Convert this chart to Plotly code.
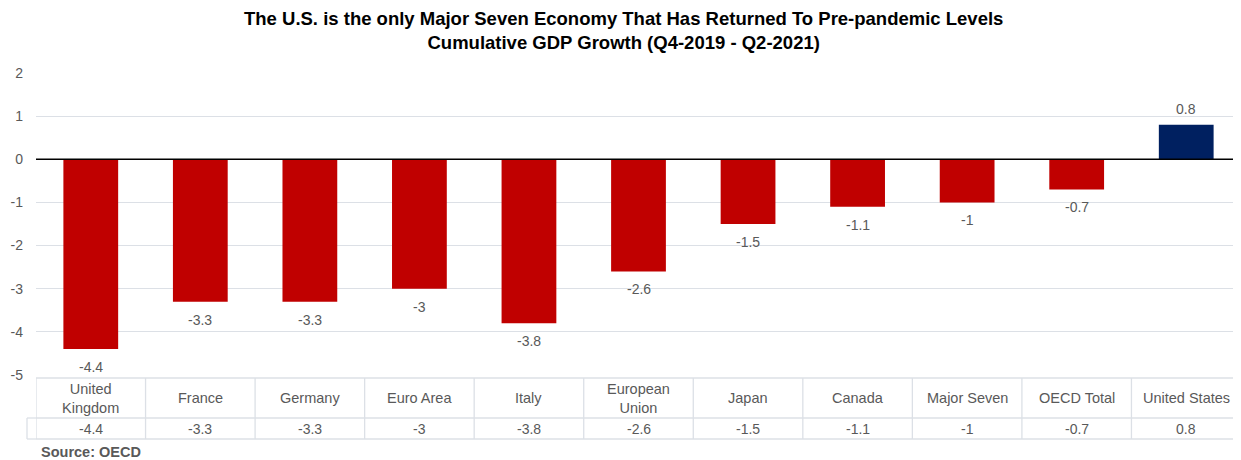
import plotly.graph_objects as go

categories = ["United<br>Kingdom", "France", "Germany", "Euro Area", "Italy",
              "European<br>Union", "Japan", "Canada", "Major Seven", "OECD Total",
              "United States"]
values = [-4.4, -3.3, -3.3, -3.0, -3.8, -2.6, -1.5, -1.1, -1.0, -0.7, 0.8]
value_labels = ["-4.4", "-3.3", "-3.3", "-3", "-3.8", "-2.6", "-1.5", "-1.1", "-1", "-0.7", "0.8"]
y_ticks = [2, 1, 0, -1, -2, -3, -4, -5]
y_tick_text = ["2", "1", "0", "-1", "-2", "-3", "-4", "-5"]

RED = "#C00000"
NAVY = "#002060"
colors = [NAVY if v > 0 else RED for v in values]
x = list(range(len(categories)))

OFF = 8  # page body margin
W, H = 1241 - OFF, 460 - OFF
top_s, bot_s = 73, 375
left_s, right_s = 36, 1241
top_px, bot_px = top_s - OFF, bot_s - OFF
left_px, right_px = left_s - OFF, right_s - OFF
ph = bot_px - top_px
pw = right_px - left_px

def py(p_screen):
    return (bot_s - p_screen) / ph

def px(p_screen):
    return (p_screen - left_s) / pw

FONT = "Liberation Sans, Arial, sans-serif"
GRID = "#DCE0E6"
TXT = "#595959"

fig = go.Figure()
fig.add_trace(go.Bar(
    x=x, y=values, marker_color=colors, width=0.5,
    marker_line_width=0, hoverinfo="x+y",
))

shapes = []
annotations = []
for i, (v, lab) in enumerate(zip(values, value_labels)):
    annotations.append(dict(x=i, y=v, xref="x", yref="y", text=lab, showarrow=False,
                            yanchor="middle", yshift=(16 if v > 0 else -18),
                            font=dict(family=FONT, size=14, color=TXT)))

t_top, t_mid, t_bot = 378, 418, 439
for p in (t_top, t_mid, t_bot):
    shapes.append(dict(type="line", xref="paper", yref="paper", x0=0, x1=1,
                       y0=py(p), y1=py(p), line=dict(color=GRID, width=1.3)))
xl = px(27)
for p in (t_mid, t_bot):
    shapes.append(dict(type="line", xref="paper", yref="paper", x0=xl, x1=0,
                       y0=py(p), y1=py(p), line=dict(color=GRID, width=1.3)))
shapes.append(dict(type="line", xref="paper", yref="paper", x0=xl, x1=xl,
                   y0=py(t_mid), y1=py(t_bot), line=dict(color=GRID, width=1.3)))
for i in range(len(categories) + 1):
    shapes.append(dict(type="line", xref="x", yref="paper", x0=i - 0.5, x1=i - 0.5,
                       y0=py(t_top), y1=py(t_bot), line=dict(color=GRID, width=1.3)))

for i, (c, v) in enumerate(zip(categories, value_labels)):
    annotations.append(dict(x=i, y=py((t_top + t_mid) / 2), xref="x", yref="paper",
                            text=c, showarrow=False, yanchor="middle",
                            font=dict(family=FONT, size=14.5, color=TXT)))
    annotations.append(dict(x=i, y=py((t_mid + t_bot) / 2), xref="x", yref="paper",
                            text=v, showarrow=False, yanchor="middle",
                            font=dict(family=FONT, size=14, color=TXT)))

annotations.append(dict(x=px(39), y=py(452), xref="paper", yref="paper",
                        xanchor="left", yanchor="middle", showarrow=False,
                        text="<b>Source: OECD</b>",
                        font=dict(family=FONT, size=14.5, color="#595959")))
annotations.append(dict(x=px(623), y=py(30), xref="paper", yref="paper",
                        xanchor="center", yanchor="middle", showarrow=False,
                        text="<b>The U.S. is the only Major Seven Economy That Has Returned To Pre-pandemic Levels<br>Cumulative GDP Growth (Q4-2019 - Q2-2021)</b>",
                        font=dict(family=FONT, size=18.5, color="#000000")))
shapes.append(dict(type="line", xref="paper", yref="y", x0=0, x1=1, y0=0, y1=0,
                   line=dict(color="#000000", width=1.5), layer="above"))

fig.update_layout(
    width=W, height=H,
    margin=dict(l=left_px, r=W - right_px, t=top_px, b=H - bot_px, pad=0),
    paper_bgcolor="white", plot_bgcolor="white",
    showlegend=False,
    shapes=shapes, annotations=annotations,
    xaxis=dict(range=[-0.5, 10.5], showticklabels=False, showgrid=False,
               zeroline=False, showline=False, ticks=""),
    yaxis=dict(range=[-5, 2], tickvals=y_ticks, ticktext=y_tick_text,
               showgrid=True, gridcolor=GRID,
               gridwidth=1.3, zeroline=False, showline=False, ticks="",
               tickfont=dict(family=FONT, size=14, color=TXT),
               ticklabelstandoff=12),
)

fig.write_html("out.html")
